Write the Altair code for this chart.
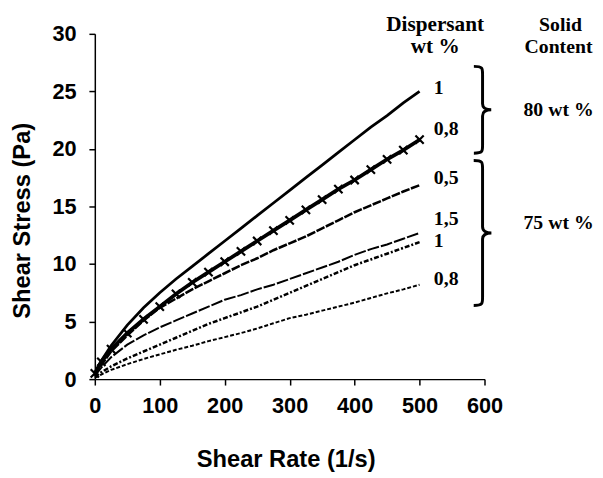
import altair as alt
import pandas as pd

# ---- data ----
shear_rate = [0, 10, 25, 50, 75, 100, 125, 150, 175, 200, 225, 250, 275, 300,
              325, 350, 375, 400, 425, 450, 475, 500]
s80_d1 = [0.5, 1.6, 2.9, 4.7, 6.2, 7.5, 8.7, 9.8, 10.9, 12.0, 13.1, 14.2, 15.3, 16.4,
          17.5, 18.6, 19.7, 20.8, 21.9, 22.9, 24.0, 25.0]
s80_d08 = [0.5, 1.5, 2.6, 4.0, 5.2, 6.3, 7.4, 8.4, 9.3, 10.2, 11.1, 12.0, 12.9, 13.8,
           14.7, 15.6, 16.5, 17.3, 18.2, 19.1, 19.9, 20.8]
s75_d05 = [0.3, 1.2, 2.4, 3.8, 5.1, 6.2, 7.0, 7.8, 8.5, 9.2, 9.9, 10.5, 11.2, 11.8,
           12.4, 13.1, 13.8, 14.5, 15.1, 15.7, 16.3, 16.85]
s75_d15 = [0.3, 1.0, 1.9, 3.0, 3.8, 4.5, 5.1, 5.7, 6.3, 6.9, 7.3, 7.8, 8.2, 8.7,
           9.2, 9.7, 10.2, 10.8, 11.3, 11.7, 12.2, 12.7]
s75_d1 = [0.2, 0.6, 1.1, 1.8, 2.4, 3.0, 3.6, 4.2, 4.8, 5.3, 5.8, 6.3, 6.9, 7.5,
          8.1, 8.7, 9.3, 9.9, 10.4, 10.9, 11.4, 11.9]
s75_d08 = [0.1, 0.4, 0.8, 1.3, 1.75, 2.15, 2.55, 2.9, 3.3, 3.65, 4.0, 4.4, 4.85, 5.3,
           5.6, 5.95, 6.3, 6.65, 7.05, 7.45, 7.8, 8.2]

x_ticks = [0, 100, 200, 300, 400, 500, 600]
y_ticks = [0, 5, 10, 15, 20, 25, 30]

curve_labels = ["1", "0,8", "0,5", "1,5", "1", "0,8"]
curve_label_y = [25.3, 21.7, 17.5, 13.9, 12.0, 8.7]

group_labels = ["80 wt %", "75 wt %"]
group_label_y = [23.4, 13.6]

# ---- build tables ----
def series_df(vals):
    return pd.DataFrame({"rate": shear_rate, "stress": vals})

X = alt.X("rate:Q", scale=alt.Scale(domain=[0, 600], nice=False, zero=False),
          axis=alt.Axis(values=x_ticks, title="Shear Rate (1/s)", format="d",
                        tickSize=6, labelPadding=11, titleX=193.5, titleY=89,
                        titleBaseline="alphabetic", titleAlign="center",
                        titleAnchor="middle"))
Y = alt.Y("stress:Q", scale=alt.Scale(domain=[0, 30], nice=False),
          axis=alt.Axis(values=y_ticks, title="Shear Stress (Pa)", format="d",
                        tickSize=6, labelPadding=13, titleX=-66, titleY=189,
                        titleBaseline="alphabetic", titleAlign="center",
                        titleAngle=270))

def line(vals, width, dash=None):
    kw = dict(color="black", strokeWidth=width, clip=False)
    if dash:
        kw["strokeDash"] = dash
    return alt.Chart(series_df(vals)).mark_line(**kw).encode(x=X, y=Y)

cross_path = "M-1,-1L1,1M1,-1L-1,1"

layers = [
    line(s80_d1, 2.8),
    line(s80_d08, 3.8),
    alt.Chart(series_df(s80_d08)).mark_point(shape=cross_path, filled=False, color="black",
                                             strokeWidth=2.2, size=70, opacity=1).encode(x=X, y=Y),
    line(s75_d05, 2.6, [9, 1.5]),
    line(s75_d15, 2.0, [12, 2]),
    line(s75_d1, 2.6, [5, 2, 2, 2]),
    line(s75_d08, 2.0, [4, 2]),
]

serif = "Liberation Serif"

# curve labels at the right end of the curves
lab_df = pd.DataFrame({"rate": [522] * len(curve_labels), "stress": curve_label_y,
                       "t": curve_labels})
layers.append(alt.Chart(lab_df).mark_text(font=serif, fontWeight="bold", fontSize=20,
                                           align="left", baseline="middle", color="black")
              .encode(x=X, y=Y, text="t:N"))

# braces (custom path symbols)
brace1 = ("M-0.2,-1 C0,-1 0,-0.96 0,-0.82 L0,-0.14 C0,-0.04 0.08,0 0.2,0 "
          "C0.08,0 0,0.04 0,0.14 L0,0.82 C0,0.96 0,1 -0.2,1")
brace2 = ("M-0.122,-1 C0,-1 0,-0.975 0,-0.89 L0,-0.085 C0,-0.025 0.05,0 0.122,0 "
          "C0.05,0 0,0.025 0,0.085 L0,0.89 C0,0.975 0,1 -0.122,1")
layers.append(alt.Chart(pd.DataFrame({"rate": [597], "stress": [23.4]}))
              .mark_point(shape=brace1, filled=False, color="black", strokeWidth=3,
                          size=88 * 88, opacity=1).encode(x=X, y=Y))
layers.append(alt.Chart(pd.DataFrame({"rate": [597], "stress": [12.7]}))
              .mark_point(shape=brace2, filled=False, color="black", strokeWidth=3,
                          size=147 * 147, opacity=1).encode(x=X, y=Y))

# group labels
grp_df = pd.DataFrame({"rate": [714, 714], "stress": group_label_y, "t": group_labels})
layers.append(alt.Chart(grp_df).mark_text(font=serif, fontWeight="bold", fontSize=20,
                                           align="center", baseline="middle", color="black")
              .encode(x=X, y=Y, text="t:N"))

# headers
def header(txt, px, py, fs):
    return alt.Chart(pd.DataFrame({"t": [txt]})).mark_text(
        font=serif, fontWeight="bold", fontSize=fs, align="center",
        baseline="alphabetic", color="black").encode(
        x=alt.value(px), y=alt.value(py), text="t:N")

layers += [header("Dispersant", 345, -3, 21.5), header("wt %", 345, 19, 21.5),
           header("Solid", 472, -3, 20), header("Content", 470, 19, 20)]

chart = alt.layer(*layers).properties(
    width=395, height=350,
    autosize=alt.AutoSizeParams(type="none"),
    padding={"left": 88, "top": 23, "right": 112, "bottom": 95},
    background="white",
).configure_view(stroke=None).configure_axis(
    grid=False, domainColor="black", domainWidth=1.5, tickColor="black", tickWidth=1.5,
    labelFont="Liberation Sans", labelFontWeight="bold", labelFontSize=22, labelColor="black",
    titleFont="Liberation Sans", titleFontWeight="bold", titleFontSize=24, titleColor="black",
    labelFlush=False, labelOverlap=False,
)

chart.save("out.html", embed_options={"renderer": "svg", "actions": False})
